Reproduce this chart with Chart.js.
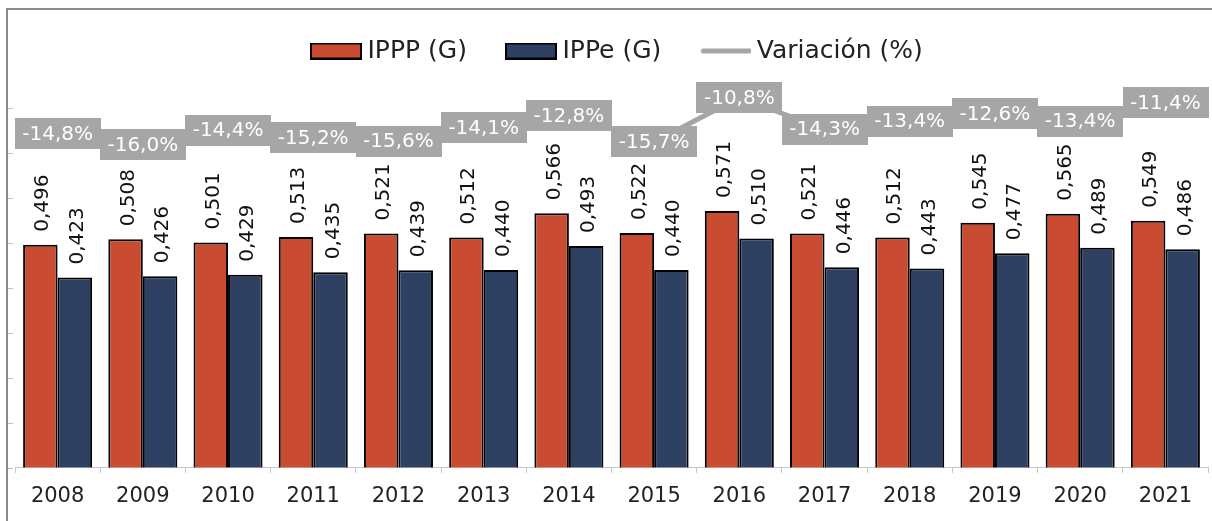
<!DOCTYPE html>
<html><head><meta charset="utf-8">
<script src="https://cdn.jsdelivr.net/npm/chart.js@4.4.0/dist/chart.umd.min.js"></script>
<style>html,body{margin:0;padding:0;background:#fff;}#wrap{position:relative;width:1212px;height:521px;}</style>
</head><body><div id="wrap"><canvas id="c" width="1212" height="521"></canvas></div>
<script>
const years = ['2008','2009','2010','2011','2012','2013','2014','2015','2016','2017','2018','2019','2020','2021'];
const ippp = [0.496,0.508,0.501,0.513,0.521,0.512,0.566,0.522,0.571,0.521,0.512,0.545,0.565,0.549];
const ippe = [0.423,0.426,0.429,0.435,0.439,0.440,0.493,0.440,0.510,0.446,0.443,0.477,0.489,0.486];
const variacion = [-14.8,-16.0,-14.4,-15.2,-15.6,-14.1,-12.8,-15.7,-10.8,-14.3,-13.4,-12.6,-13.4,-11.4];
const yTickValues = [0,0.1,0.2,0.3,0.4,0.5,0.6,0.7,0.8];
const seriesNames = ['IPPP (G)','IPPe (G)','Variación (%)'];

const RED = '#C84B32', BLUE = '#2E4162', GRAY = '#A6A6A6';
const FONT = '"DejaVu Sans", Verdana, sans-serif';
const LEG_FONT = 25, LEG_PAD = 45, LEG_BOX = 38;
const LEG_HEIGHT = LEG_FONT + LEG_PAD + 10;

function boxIcon(color){
  const c = document.createElement('canvas'); c.width = 52; c.height = 17;
  const x = c.getContext('2d');
  x.fillStyle = '#000'; x.fillRect(0,0,52,17);
  x.fillStyle = color; x.fillRect(2,2,48,13);
  return c;
}
function lineIcon(color){
  const c = document.createElement('canvas'); c.width = 52; c.height = 17;
  const x = c.getContext('2d');
  x.strokeStyle = color; x.lineWidth = 5; x.lineCap = 'round';
  x.beginPath(); x.moveTo(4,8.5); x.lineTo(50,8.5); x.stroke();
  return c;
}
const icons = [boxIcon(RED), boxIcon(BLUE), lineIcon(GRAY)];

const bgPlugin = {
  id:'bg',
  beforeDraw(chart){
    const ctx = chart.ctx; ctx.save(); ctx.fillStyle='#fff'; ctx.fillRect(0,0,chart.width,chart.height); ctx.restore();
  }
};
const legendPlace = {
  id:'legendPlace',
  afterLayout(chart){
    const lg = chart.legend; if (!lg) return;
    const w = lg.width, h = lg.height;
    lg.left = 317 - LEG_PAD; lg.right = lg.left + w;
    lg.top = 51 - LEG_PAD - LEG_FONT/2; lg.bottom = lg.top + h;
  }
};
const decoPlugin = {
  id:'deco',
  afterDraw(chart){
    const ctx = chart.ctx; ctx.save();
    ctx.fillStyle = '#8c8c8c';
    ctx.fillRect(6,8,chart.width-6,2);
    ctx.fillRect(6,8,2,chart.height-8);
    const ys = chart.scales.y;
    ctx.strokeStyle = '#bfbfbf'; ctx.lineWidth = 1;
    yTickValues.forEach(v=>{
      const py = Math.round(ys.getPixelForValue(v))+0.5;
      ctx.beginPath(); ctx.moveTo(8,py); ctx.lineTo(13,py); ctx.stroke();
    });
    ctx.restore();
  }
};
const labelPlugin = {
  id:'labels',
  afterDatasetsDraw(chart){
    const ctx = chart.ctx;
    ctx.save();
    ctx.font = '20px ' + FONT;
    [0,1].forEach(di=>{
      const meta = chart.getDatasetMeta(di);
      meta.data.forEach((bar,i)=>{
        const v = chart.data.datasets[di].data[i];
        const txt = v.toFixed(3).replace('.',',');
        ctx.save();
        ctx.translate(bar.x+8, bar.y-13);
        ctx.rotate(-Math.PI/2);
        ctx.textAlign='left'; ctx.textBaseline='alphabetic'; ctx.fillStyle='#111';
        ctx.fillText(txt,0,0);
        ctx.restore();
      });
    });
    const lm = chart.getDatasetMeta(2);
    lm.data.forEach((pt,i)=>{
      const txt = variacion[i].toFixed(1).replace('.',',') + '%';
      const w = ctx.measureText(txt).width + 15;
      const h = 31;
      ctx.fillStyle = GRAY;
      ctx.fillRect(Math.round(pt.x-w/2), Math.round(pt.y-h/2), Math.round(w), h);
      ctx.fillStyle = '#fff'; ctx.textAlign='center'; ctx.textBaseline='middle';
      ctx.fillText(txt, pt.x, pt.y+1);
    });
    ctx.restore();
  }
};

new Chart(document.getElementById('c'), {
  data: {
    labels: years,
    datasets: [
      {type:'bar', label:seriesNames[0], data:ippp, backgroundColor:RED, borderColor:'#000', borderWidth:2, yAxisID:'y', order:2,
       categoryPercentage:0.81, barPercentage:1.0},
      {type:'bar', label:seriesNames[1], data:ippe, backgroundColor:BLUE, borderColor:'#000', borderWidth:2, yAxisID:'y', order:2,
       categoryPercentage:0.81, barPercentage:1.0},
      {type:'line', label:seriesNames[2], data:variacion, borderColor:GRAY, backgroundColor:GRAY, borderWidth:5,
       pointRadius:0, tension:0, yAxisID:'y2', order:1}
    ]
  },
  options: {
    responsive:false,
    animation:false,
    layout:{padding:{left:15, right:4, top:63 - LEG_HEIGHT, bottom:1}},
    plugins:{
      legend:{
        position:'top',
        align:'start',
        labels:{
          usePointStyle:true, pointStyleWidth:LEG_BOX, boxHeight:17, padding:LEG_PAD,
          color:'#222', font:{family:FONT, size:LEG_FONT},
          sort:(a,b)=>a.datasetIndex-b.datasetIndex,
          generateLabels(chart){
            const items = Chart.defaults.plugins.legend.labels.generateLabels(chart);
            items.forEach(it=>{ it.pointStyle = icons[it.datasetIndex]; });
            return items;
          }
        }
      },
      tooltip:{enabled:false}
    },
    scales:{
      x:{
        grid:{display:true, drawOnChartArea:false, offset:true, tickLength:5, color:'#c8c8c8'},
        border:{display:true, color:'#c8c8c8', width:1},
        ticks:{color:'#222', font:{family:FONT, size:21}, padding:11, maxRotation:0}
      },
      y:{display:false, min:0, max:0.9},
      y2:{display:false, min:-51.6, max:-7.0}
    }
  },
  plugins:[bgPlugin, legendPlace, labelPlugin, decoPlugin]
});
</script></body></html>
